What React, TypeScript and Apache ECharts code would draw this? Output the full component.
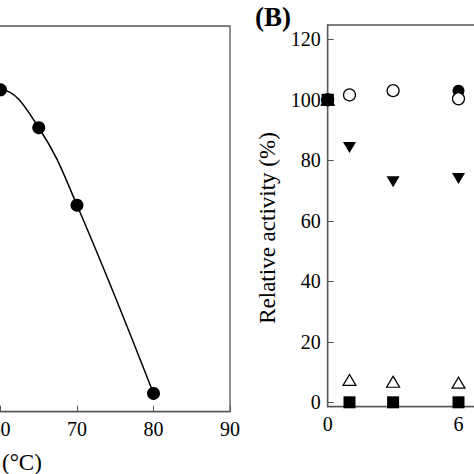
import React, { useEffect, useRef } from "react";
import * as echarts from "echarts";

// Panel A: temperature (°C) vs relative activity (%)
const tempX = [55, 60, 65, 70, 80];
const tempActivity = [90, 100, 87.5, 62, 0];

// Panel B: incubation time vs relative activity (%)
const timeX = [0, 1, 3, 6];
const filledCircle = [100, 101.6, 103, 103];
const openCircle = [100, 101.6, 103, 100.3];
const filledTriangleDown = [100, 84.2, 72.9, 74.0];
const openTriangleUp = [100, 7.4, 6.8, 6.5];
const filledSquare = [100, 0, 0, 0];

const yTicksB = [0, 20, 40, 60, 80, 100, 120];
const firstVisibleTempTick = 60;
const lastVisibleTimeTick = 6;

const FONT = "'Liberation Serif', 'Times New Roman', serif";
const FRAME = "#555";

const pairs = (xs: number[], ys: number[]) => xs.map((x, i) => [x, ys[i]]);

export default function App() {
  const ref = useRef<HTMLDivElement>(null);
  useEffect(() => {
    if (!ref.current) return;
    const chart = echarts.init(ref.current, undefined, { renderer: "svg" });
    const axisLabelStyle = { color: "#000", fontFamily: FONT, fontSize: 20 };
    chart.setOption({
      animation: false,
      backgroundColor: "#fff",
      grid: [
        {
          left: -152.5,
          right: 244,
          top: 26,
          bottom: 62.3,
          show: true,
          borderColor: FRAME,
          borderWidth: 1.3,
          containLabel: false,
          outerBoundsMode: "none",
        },
        {
          left: 327.7,
          right: -115.3,
          top: 25,
          bottom: 67.3,
          show: true,
          borderColor: FRAME,
          borderWidth: 1.3,
          containLabel: false,
          outerBoundsMode: "none",
        },
      ],
      xAxis: [
        {
          gridIndex: 0,
          type: "value",
          min: 40,
          max: 90,
          interval: 10,
          splitLine: { show: false },
          axisLine: { onZero: false, lineStyle: { color: FRAME, width: 1.3 } },
          axisTick: { inside: true, length: 6, lineStyle: { color: FRAME } },
          axisLabel: {
            ...axisLabelStyle,
            margin: 7,
            hideOverlap: false,
            formatter: (v: number) => (v < firstVisibleTempTick ? "" : String(v)),
          },
        },
        {
          gridIndex: 1,
          type: "value",
          min: 0,
          max: 12,
          interval: 6,
          splitLine: { show: false },
          axisLine: { onZero: false, lineStyle: { color: FRAME, width: 1.3 } },
          axisTick: { inside: true, length: 6, lineStyle: { color: FRAME } },
          axisLabel: {
            ...axisLabelStyle,
            margin: 7,
            hideOverlap: false,
            formatter: (v: number) => (v > lastVisibleTimeTick ? "" : String(v)),
          },
        },
      ],
      yAxis: [
        {
          gridIndex: 0,
          type: "value",
          min: -6,
          max: 121,
          show: false,
          splitLine: { show: false },
        },
        {
          gridIndex: 1,
          type: "value",
          min: -1.45,
          max: 124.7,
          splitLine: { show: false },
          axisLine: { show: true, onZero: false, lineStyle: { color: FRAME, width: 1.3 } },
          axisTick: {
            show: true,
            inside: true,
            length: 6,
            lineStyle: { color: FRAME },
            customValues: yTicksB,
          },
          axisLabel: { ...axisLabelStyle, margin: 7, customValues: yTicksB },
        },
      ],
      series: [
        {
          type: "line",
          xAxisIndex: 0,
          yAxisIndex: 0,
          data: pairs(tempX, tempActivity),
          smooth: 0.4,
          symbol: "circle",
          symbolSize: 13,
          lineStyle: { color: "#000", width: 1.5 },
          itemStyle: { color: "#000", opacity: 1 },
        },
        {
          type: "scatter",
          xAxisIndex: 1,
          yAxisIndex: 1,
          data: pairs(timeX, filledCircle),
          symbol: "circle",
          symbolSize: 12,
          itemStyle: { color: "#000", opacity: 1 },
          clip: false,
        },
        {
          type: "scatter",
          xAxisIndex: 1,
          yAxisIndex: 1,
          data: pairs(timeX, openCircle),
          symbol: "circle",
          symbolSize: 12,
          itemStyle: { color: "#fff", borderColor: "#000", borderWidth: 1.2, opacity: 1 },
          clip: false,
        },
        {
          type: "scatter",
          xAxisIndex: 1,
          yAxisIndex: 1,
          data: pairs(timeX, openTriangleUp),
          symbol: "triangle",
          symbolSize: [13, 11],
          itemStyle: { color: "#fff", borderColor: "#000", borderWidth: 1.2, opacity: 1 },
          clip: false,
        },
        {
          type: "scatter",
          xAxisIndex: 1,
          yAxisIndex: 1,
          data: pairs(timeX, filledTriangleDown),
          symbol: "triangle",
          symbolRotate: 180,
          symbolSize: [13, 11],
          itemStyle: { color: "#000", opacity: 1 },
          clip: false,
        },
        {
          type: "scatter",
          xAxisIndex: 1,
          yAxisIndex: 1,
          data: pairs(timeX, filledSquare),
          symbol: "rect",
          symbolSize: 12,
          itemStyle: { color: "#000", opacity: 1 },
          clip: false,
        },
      ],
      graphic: [
        {
          type: "text",
          x: 2,
          y: 462,
          style: {
            text: "(°C)",
            fontFamily: FONT,
            fontSize: 23,
            fill: "#000",
            align: "left",
            verticalAlign: "middle",
          },
        },
        {
          type: "text",
          x: 267,
          y: 228,
          rotation: Math.PI / 2,
          style: {
            text: "Relative activity (%)",
            fontFamily: FONT,
            fontSize: 23,
            fill: "#000",
            align: "center",
            verticalAlign: "middle",
          },
        },
        {
          type: "text",
          x: 255,
          y: 17,
          style: {
            text: "(B)",
            fontFamily: FONT,
            fontSize: 27,
            fontWeight: "bold",
            fill: "#000",
            align: "left",
            verticalAlign: "middle",
          },
        },
      ],
    });
    return () => chart.dispose();
  }, []);
  return <div ref={ref} style={{ width: 474, height: 474, position: "absolute", left: 0, top: 0 }} />;
}
